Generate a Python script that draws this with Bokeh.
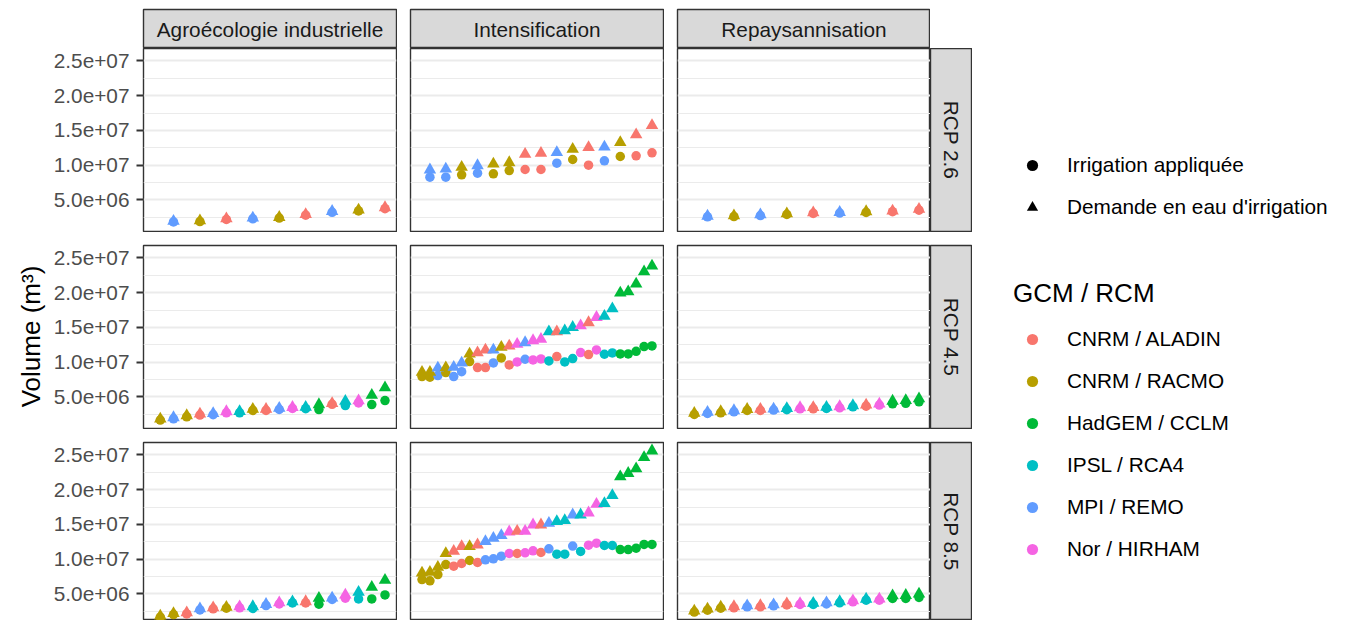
import math
from bokeh.plotting import figure
from bokeh.layouts import row, column
from bokeh.models import (ColumnDataSource, Range1d, FixedTicker, Label, Legend,
                          LegendItem, CustomJSTickFormatter, Spacer)
from bokeh.embed import file_html
from bokeh.resources import INLINE

FONT = "Liberation Sans"

# ---------------- data ----------------
scenarios = ["Agroécologie industrielle", "Intensification", "Repaysannisation"]
rcps = ["RCP 2.6", "RCP 4.5", "RCP 8.5"]
models = ["CNRM / ALADIN", "CNRM / RACMO", "HadGEM / CCLM", "IPSL / RCA4", "MPI / REMO", "Nor / HIRHAM"]
model_codes = ["A", "R", "H", "I", "M", "N"]
model_colors = ["#F8766D", "#B79F00", "#00BA38", "#00BFC4", "#619CFF", "#F564E3"]
shape_labels = ["Irrigation appliquée", "Demande en eau d'irrigation"]
y_title = "Volume (m³)"
legend_title = "GCM / RCM"

y_ticks = [5e6, 1e7, 1.5e7, 2e7, 2.5e7]
y_minor_ticks = [2.5e6, 7.5e6, 1.25e7, 1.75e7, 2.25e7]

# volumes in millions of m3, points ordered by rank of demand
agro_26_model = ["M", "R", "A", "M", "R", "A", "M", "R", "A"]
agro_26_demand = [1.95, 2.00, 2.30, 2.40, 2.50, 2.92, 3.36, 3.55, 3.90]
agro_26_applied = [1.83, 1.88, 2.18, 2.28, 2.38, 2.80, 3.22, 3.42, 3.74]

intens_26_model = ["M", "M", "R", "M", "R", "R", "A", "A", "M", "R", "A", "M", "R", "A", "A"]
intens_26_demand = [9.33, 9.47, 9.71, 9.95, 10.19, 10.38, 11.59, 11.73, 11.83, 12.31, 12.55, 12.64, 13.27, 14.38, 15.72]
intens_26_applied = [8.27, 8.27, 8.61, 8.85, 8.75, 9.23, 9.38, 9.38, 10.29, 10.82, 10.00, 10.63, 11.25, 11.35, 11.78]

repay_26_model = ["M", "R", "M", "R", "A", "M", "R", "A", "A"]
repay_26_demand = [2.68, 2.72, 2.87, 3.02, 3.17, 3.22, 3.32, 3.42, 3.66]
repay_26_applied = [2.56, 2.60, 2.75, 2.90, 3.05, 3.10, 3.20, 3.30, 3.52]

agro_45_model = ["R", "M", "R", "A", "M", "N", "I", "R", "A", "M", "N", "I", "H", "A", "I", "N", "H", "H"]
agro_45_demand = [1.84, 2.03, 2.32, 2.56, 2.61, 2.89, 2.90, 3.23, 3.24, 3.37, 3.50, 3.52, 3.90, 4.05, 4.38, 4.47, 5.24, 6.34]
agro_45_applied = [1.66, 1.85, 2.14, 2.38, 2.43, 2.71, 2.71, 3.05, 3.05, 3.19, 3.34, 3.30, 3.18, 3.93, 3.75, 4.14, 3.90, 4.47]

intens_45_model = ["R", "R", "M", "R", "M", "M", "R", "A", "A", "M", "R", "A", "N", "M", "N",
                   "N", "I", "A", "I", "I", "N", "A", "N", "I", "I", "H", "H", "H", "H", "H"]
intens_45_demand = [8.55, 8.55, 9.17, 9.20, 9.27, 9.89, 11.19, 11.38, 11.76, 11.76, 12.15, 12.34, 12.58, 12.82, 13.11,
                    13.30, 14.40, 14.40, 14.54, 15.02, 15.26, 15.70, 16.46, 16.61, 17.71, 19.96, 20.16, 21.26, 23.03, 23.85]
intens_45_applied = [7.93, 7.83, 8.07, 8.50, 7.93, 8.64, 10.08, 9.22, 9.22, 9.89, 10.61, 9.60, 10.04, 10.42, 10.32,
                     10.47, 10.18, 10.80, 10.04, 10.52, 11.38, 11.09, 11.76, 11.14, 11.33, 11.19, 11.19, 11.57, 12.24, 12.34]

repay_45_model = ["R", "M", "R", "M", "R", "A", "M", "I", "N", "A", "I", "N", "I", "A", "N", "H", "H", "H"]
repay_45_demand = [2.65, 2.80, 2.89, 3.04, 3.22, 3.23, 3.28, 3.33, 3.47, 3.48, 3.52, 3.61, 3.76, 3.85, 4.00, 4.40, 4.50, 4.75]
repay_45_applied = [2.47, 2.62, 2.71, 2.86, 3.05, 3.05, 3.10, 3.15, 3.29, 3.29, 3.34, 3.43, 3.58, 3.67, 3.82, 4.00, 4.08, 4.30]

agro_85_model = ["R", "R", "A", "M", "A", "R", "N", "I", "M", "N", "I", "A", "H", "M", "N", "I", "H", "H"]
agro_85_demand = [1.83, 2.20, 2.30, 2.88, 3.02, 3.10, 3.16, 3.18, 3.50, 3.75, 3.88, 3.90, 4.38, 4.42, 4.86, 5.24, 5.96, 6.97]
agro_85_applied = [1.65, 2.02, 2.12, 2.70, 2.85, 2.95, 3.00, 2.90, 3.32, 3.55, 3.70, 3.70, 3.51, 4.20, 4.38, 4.28, 4.28, 4.86]

intens_85_model = ["R", "R", "R", "R", "A", "A", "R", "A", "M", "M", "M", "N", "A", "N", "N",
                   "A", "M", "I", "I", "M", "I", "N", "N", "I", "I", "H", "H", "H", "H", "H"]
intens_85_demand = [8.03, 8.12, 8.85, 10.82, 11.15, 11.83, 11.83, 12.07, 12.55, 13.03, 13.41, 13.94, 14.04, 14.04, 14.95,
                    14.95, 15.19, 15.43, 15.58, 16.39, 16.39, 16.68, 17.93, 18.03, 19.18, 21.88, 22.36, 23.03, 24.66, 25.60]
intens_85_applied = [7.07, 6.88, 7.79, 9.23, 8.99, 9.38, 9.81, 9.52, 9.90, 10.05, 10.43, 10.82, 10.82, 10.91, 11.20,
                     10.96, 11.49, 10.72, 10.72, 11.88, 11.11, 12.02, 12.31, 11.97, 11.97, 11.39, 11.39, 11.59, 12.12, 12.12]

repay_85_model = ["R", "R", "R", "A", "M", "A", "M", "A", "N", "I", "M", "I", "N", "I", "N", "H", "H", "H"]
repay_85_demand = [2.55, 2.84, 3.12, 3.18, 3.30, 3.32, 3.46, 3.60, 3.64, 3.66, 3.75, 3.90, 4.03, 4.26, 4.28, 4.75, 4.80, 5.00]
repay_85_applied = [2.38, 2.66, 2.95, 3.00, 3.14, 3.14, 3.28, 3.42, 3.48, 3.48, 3.56, 3.72, 3.86, 4.10, 4.10, 4.35, 4.35, 4.50]

UNIT = 1e6

panel_data = [
    [(agro_26_model, agro_26_demand, agro_26_applied),
     (intens_26_model, intens_26_demand, intens_26_applied),
     (repay_26_model, repay_26_demand, repay_26_applied)],
    [(agro_45_model, agro_45_demand, agro_45_applied),
     (intens_45_model, intens_45_demand, intens_45_applied),
     (repay_45_model, repay_45_demand, repay_45_applied)],
    [(agro_85_model, agro_85_demand, agro_85_applied),
     (intens_85_model, intens_85_demand, intens_85_applied),
     (repay_85_model, repay_85_demand, repay_85_applied)],
]

color_of = dict(zip(model_codes, model_colors))

# ---------------- scales (shared, ggplot-style 5% expansion) ----------------
all_vals = [v for r in panel_data for (_, d, a) in r for v in d + a]
y_lo_data, y_hi_data = min(all_vals) * UNIT, max(all_vals) * UNIT
y_pad = 0.05 * (y_hi_data - y_lo_data)
Y_LO, Y_HI = y_lo_data - y_pad, y_hi_data + y_pad

max_n = max(len(m) for r in panel_data for (m, _, _) in r)
x_lo_data, x_hi_data = 1.0 / max_n, 1.0
x_pad = 0.05 * (x_hi_data - x_lo_data)
X_LO, X_HI = x_lo_data - x_pad, x_hi_data + x_pad

FRAME_W = 253
FRAME_H = 183
FRAME_H_LAST = 178
GAP = 14
LEFT_AXIS = 93
TOP_PAD = 9
STRIP_H = 39

GRID_COLOR = "#EBEBEB"
BORDER = "#333333"
STRIP_FILL = "#D9D9D9"
LW = 1.4

tick_formatter = CustomJSTickFormatter(code="""
const e = Math.floor(Math.log10(tick) + 1e-9);
const m = tick / Math.pow(10, e);
return m.toFixed(1) + "e+" + (e < 10 ? "0" + e : "" + e);
""")


def borders(ci, ri):
    left = LEFT_AXIS if ci == 0 else GAP - 1
    right = 1 if ci < 2 else 0
    top = 0 if ri == 0 else GAP - 1
    bottom = 1 if ri < 2 else 0
    return left, right, top, bottom


def make_panel(ci, ri):
    mdl, dem, app = panel_data[ri][ci]
    n = len(mdl)
    fh = FRAME_H if ri < 2 else FRAME_H_LAST
    y_start = Y_LO if ri < 2 else Y_HI - (Y_HI - Y_LO) * fh / FRAME_H
    bl, br, bt, bb = borders(ci, ri)
    p = figure(frame_width=FRAME_W, frame_height=fh,
               x_range=Range1d(X_LO, X_HI), y_range=Range1d(y_start, Y_HI),
               output_backend="svg", toolbar_location=None,
               x_axis_location=None, y_axis_location="left" if ci == 0 else None,
               min_border_left=bl, min_border_right=br,
               min_border_top=bt, min_border_bottom=bb)
    p.background_fill_color = "white"
    p.border_fill_color = "white"
    p.outline_line_color = BORDER
    p.outline_line_width = LW
    p.xgrid.visible = False
    p.ygrid.ticker = FixedTicker(ticks=y_ticks, minor_ticks=y_minor_ticks)
    p.ygrid.grid_line_color = GRID_COLOR
    p.ygrid.grid_line_width = 2
    p.ygrid.minor_grid_line_color = GRID_COLOR
    p.ygrid.minor_grid_line_width = 1
    if ci == 0:
        ax = p.yaxis[0]
        ax.ticker = FixedTicker(ticks=y_ticks, minor_ticks=y_minor_ticks)
        ax.formatter = tick_formatter
        ax.axis_line_color = None
        ax.major_tick_out = 7
        ax.major_tick_in = 0
        ax.major_tick_line_color = BORDER
        ax.major_tick_line_width = 2
        ax.minor_tick_line_color = None
        ax.major_label_standoff = 7
        ax.major_label_text_font = FONT
        ax.major_label_text_font_size = "20.8px"
        ax.major_label_text_color = "#4D4D4D"
    src = ColumnDataSource(dict(
        x=[(i + 1) / n for i in range(n)],
        demand=[v * UNIT for v in dem],
        applied=[v * UNIT for v in app],
        color=[color_of[m] for m in mdl],
    ))
    p.scatter(x="x", y="applied", source=src, marker="circle", size=9.5,
              fill_color="color", line_color=None)
    p.scatter(x="x", y="demand", source=src, marker="triangle", size=12.5,
              fill_color="color", line_color=None)
    return p


def make_top_strip(ci):
    bl, br, _, _ = borders(ci, 0)
    s = figure(frame_width=FRAME_W, frame_height=STRIP_H,
               x_range=Range1d(0, 1), y_range=Range1d(0, 1),
               output_backend="svg", toolbar_location=None,
               x_axis_location=None, y_axis_location=None,
               min_border_left=bl, min_border_right=br,
               min_border_top=TOP_PAD, min_border_bottom=0)
    s.grid.visible = False
    s.background_fill_color = STRIP_FILL
    s.border_fill_color = "white"
    s.outline_line_color = BORDER
    s.outline_line_width = LW
    s.add_layout(Label(x=0.5, y=0.5, text=scenarios[ci], text_align="center",
                       text_baseline="middle", text_font=FONT,
                       text_font_size="20.8px", text_color="#1A1A1A"))
    return s


def make_right_strip(ri):
    fh = FRAME_H if ri < 2 else FRAME_H_LAST
    _, _, bt, bb = borders(0, ri)
    s = figure(frame_width=41, frame_height=fh,
               x_range=Range1d(0, 1), y_range=Range1d(0, 1),
               output_backend="svg", toolbar_location=None,
               x_axis_location=None, y_axis_location=None,
               min_border_left=0, min_border_right=1,
               min_border_top=bt, min_border_bottom=bb)
    s.grid.visible = False
    s.background_fill_color = STRIP_FILL
    s.border_fill_color = "white"
    s.outline_line_color = BORDER
    s.outline_line_width = LW
    s.add_layout(Label(x=0.5, y=0.5, text=rcps[ri], angle=-math.pi / 2,
                       text_align="center", text_baseline="middle", text_font=FONT,
                       text_font_size="20.8px", text_color="#1A1A1A"))
    return s


TOTAL_H = TOP_PAD + STRIP_H + (FRAME_H + 1) + (GAP - 1 + FRAME_H + 1) + (GAP - 1 + FRAME_H_LAST)

# y axis title
ylab = figure(width=50, height=TOTAL_H, x_range=Range1d(0, 1), y_range=Range1d(0, 1),
              output_backend="svg", toolbar_location=None,
              x_axis_location=None, y_axis_location=None, min_border=0)
ylab.grid.visible = False
ylab.outline_line_color = None
ylab.add_layout(Label(x=30, y=TOTAL_H - 336, x_units="screen", y_units="screen", text=y_title,
                      angle=math.pi / 2, text_align="center", text_baseline="middle",
                      text_font=FONT, text_font_size="26px", text_color="black"))

cols = []
for ci in range(3):
    cols.append(column([make_top_strip(ci)] + [make_panel(ci, ri) for ri in range(3)]))

rstrip = column([Spacer(width=42, height=TOP_PAD + STRIP_H)] + [make_right_strip(ri) for ri in range(3)])

# legends
leg_fig = figure(width=370, height=TOTAL_H, x_range=Range1d(0, 1), y_range=Range1d(0, 1),
                 output_backend="svg", toolbar_location=None,
                 x_axis_location=None, y_axis_location=None, min_border=0)
leg_fig.grid.visible = False
leg_fig.outline_line_color = None

NAN = float("nan")
r_app = leg_fig.scatter(x=[NAN], y=[NAN], marker="circle", fill_color="black", line_color=None)
r_dem = leg_fig.scatter(x=[NAN], y=[NAN], marker="triangle", fill_color="black", line_color=None)
leg1 = Legend(items=[LegendItem(label=shape_labels[0], renderers=[r_app]),
                     LegendItem(label=shape_labels[1], renderers=[r_dem])],
              location=(46, TOTAL_H - 221), orientation="vertical",
              glyph_width=28, glyph_height=28, label_height=28, spacing=14,
              label_standoff=21, padding=0, margin=0,
              border_line_color=None, background_fill_alpha=0,
              label_text_font=FONT, label_text_font_size="20.8px", label_text_color="black")
leg_fig.add_layout(leg1)

color_items = []
for name, c in zip(models, model_colors):
    r = leg_fig.scatter(x=[NAN], y=[NAN], marker="circle", fill_color=c, line_color=None)
    color_items.append(LegendItem(label=name, renderers=[r]))
leg2 = Legend(items=color_items, location=(41, TOTAL_H - 563), orientation="vertical",
              title=legend_title, title_text_font=FONT, title_text_font_size="26px",
              title_text_font_style="normal", title_text_color="black", title_standoff=16,
              glyph_width=38, glyph_height=28, label_height=28, spacing=14,
              label_standoff=16, padding=0, margin=0,
              border_line_color=None, background_fill_alpha=0,
              label_text_font=FONT, label_text_font_size="20.8px", label_text_color="black")
leg_fig.add_layout(leg2)

layout = row([ylab] + cols + [rstrip, leg_fig])

open("out.html", "w").write(file_html(layout, INLINE))
